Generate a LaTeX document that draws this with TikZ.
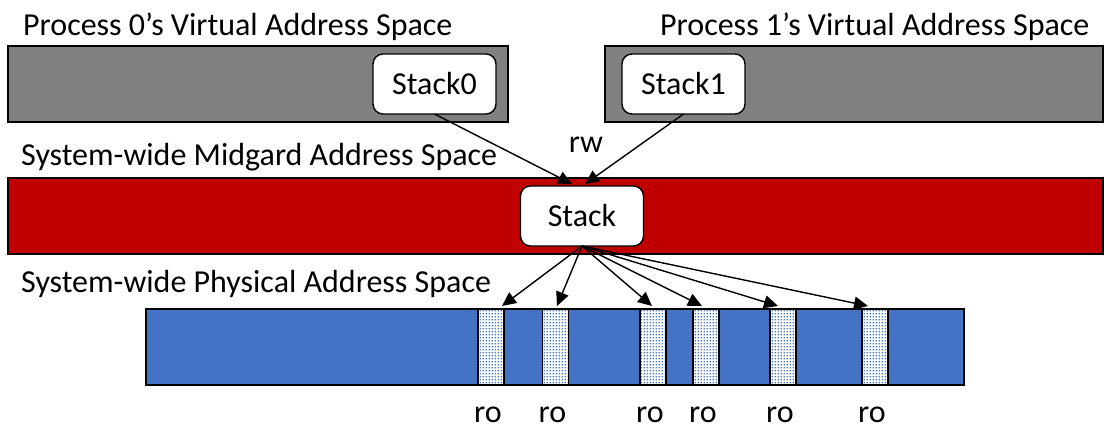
\documentclass[tikz,border=0pt]{standalone}
\usepackage{fontspec}
\setmainfont{Carlito}
\usetikzlibrary{arrows.meta,patterns}
\definecolor{vgray}{RGB}{128,128,128}
\definecolor{mred}{RGB}{192,0,0}
\definecolor{pblue}{RGB}{68,114,196}
% small square dots for the read-only frames
\pgfdeclarepatternformonly{bluedots}{\pgfqpoint{0pt}{0pt}}{\pgfqpoint{3.2pt}{3.2pt}}{\pgfqpoint{3.2pt}{3.2pt}}%
  {\pgfpathrectangle{\pgfqpoint{0.8pt}{0.8pt}}{\pgfqpoint{1.4pt}{1.4pt}}\pgfusepath{fill}}
\tikzset{
  lbl/.style={font=\fontsize{32}{38}\selectfont, inner sep=0pt},
  space/.style={draw=black, line width=1.6pt, inner sep=0pt, outer sep=0pt, minimum height=76},
  region/.style={draw=black, fill=white, line width=1.4pt, rounded corners=10pt,
    minimum width=123, minimum height=60, inner sep=0pt, outer sep=0pt,
    font=\fontsize{32}{38}\selectfont},
  frame/.style={draw=black, line width=1.4pt, preaction={fill=white},
    pattern=bluedots, pattern color=pblue, minimum width=26, minimum height=76,
    inner sep=0pt, outer sep=0pt},
  map/.style={line width=1.4pt, -{Triangle[length=14pt,width=13pt]}}
}
\begin{document}
\begin{tikzpicture}[x=1pt,y=-1pt]
\useasboundingbox (0,0) rectangle (1104,428);

% address spaces
\node[space, fill=vgray, minimum width=500] (v0) at (258,84) {};
\node[space, fill=vgray, minimum width=498] (v1) at (854,84) {};
\node[space, fill=mred, minimum width=1095] (mid) at (555.5,216) {};
\node[space, fill=pblue, minimum width=818] (phys) at (555,347) {};

% titles
\node[lbl, anchor=base west] (t0) at (23,36) {Process 0’s Virtual Address Space};
\node[lbl, anchor=base west] (t1) at (660,36) {Process 1’s Virtual Address Space};
\node[lbl, anchor=base west] (tm) at (21,165) {System-wide Midgard Address Space};
\node[lbl, anchor=base west] (tp) at (21,292) {System-wide Physical Address Space};

% stack regions
\node[region] (st0) at (434.5,84) {Stack0};
\node[region] (st1) at (683.5,84) {Stack1};
\node[region] (st) at (582,216) {Stack};

% read-only physical frames
\foreach \i/\x in {1/491,2/555.5,3/653,4/706,5/783,6/875}{
  \node[frame] (f\i) at (\x,347) {};
  \node[lbl, anchor=base] (ro\i) at (\x-3,422) {ro};
}

% arrow end points
\coordinate (a0) at (572,184);
\coordinate (a1) at (585,184);
\foreach \i/\x in {1/502,2/557,3/652,4/702,5/778,6/868}{
  \coordinate (p\i) at (\x,306);
}

% rw mappings
\draw[map] (st0.south) -- (a0);
\draw[map] (st1.south) -- (a1);
\node[lbl, anchor=base] (rw) at (586,152) {rw};

% ro mappings
\foreach \i in {1,...,6}{
  \draw[map] (st.south) -- (p\i);
}
\end{tikzpicture}
\end{document}
